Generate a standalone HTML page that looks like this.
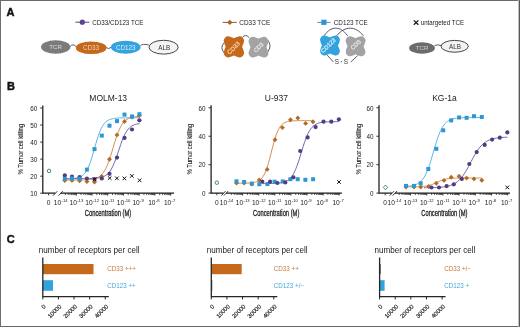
<!DOCTYPE html><html><head><meta charset="utf-8"><style>html,body{margin:0;padding:0;background:#fff}svg{display:block;will-change:transform}svg text{font-family:"Liberation Sans",sans-serif}</style></head><body>
<svg width="520" height="327" viewBox="0 0 520 327">
<rect x="0" y="0" width="520" height="327" fill="#fff"/>
<text x="6.6" y="15.8" font-size="11" font-weight="bold" fill="#111" stroke="#111" stroke-width="0.45" font-family="&quot;Liberation Sans&quot;, sans-serif">A</text>
<text x="6.9" y="90.2" font-size="11" font-weight="bold" fill="#111" stroke="#111" stroke-width="0.45" font-family="&quot;Liberation Sans&quot;, sans-serif">B</text>
<text x="6.7" y="242.9" font-size="11" font-weight="bold" fill="#111" stroke="#111" stroke-width="0.45" font-family="&quot;Liberation Sans&quot;, sans-serif">C</text>
<path d="M75.4,22.2 L89.4,22.2" stroke="#524478" stroke-width="1"/><circle cx="82.3" cy="22.2" r="2.6" fill="#5f4095"/>
<text transform="translate(92.3,24.7) scale(0.945,1)" font-size="6.6" fill="#222" font-family="&quot;Liberation Sans&quot;, sans-serif">CD33/CD123 TCE</text>
<path d="M222.6,22.4 L236.8,22.4" stroke="#8a5e26" stroke-width="1"/><path d="M229.8,19.7 L232.5,22.4 L229.8,25.099999999999998 L227.10000000000002,22.4Z" fill="#ab6420"/>
<text transform="translate(239.3,25.0) scale(0.96,1)" font-size="6.7" fill="#222" font-family="&quot;Liberation Sans&quot;, sans-serif">CD33 TCE</text>
<path d="M317.3,22.4 L330.6,22.4" stroke="#4d84b0" stroke-width="0.9"/><rect x="321.30" y="19.70" width="5.20" height="5.20" fill="#2f95cd"/>
<text transform="translate(333.8,25.0) scale(0.96,1)" font-size="6.6" fill="#222" font-family="&quot;Liberation Sans&quot;, sans-serif">CD123 TCE</text>
<path d="M413.8,20.4 L418.4,24.8 M418.4,20.4 L413.8,24.8" stroke="#111" stroke-width="1.2" fill="none"/>
<text transform="translate(420.7,25.0) scale(0.95,1)" font-size="6.5" fill="#222" font-family="&quot;Liberation Sans&quot;, sans-serif">untargeted TCE</text>
<path d="M70.2,46.6 Q72.8,43.2 75.9,46.4" stroke="#3e4759" stroke-width="0.9" fill="none"/>
<path d="M106.4,47.6 Q108.5,49.6 111.0,47.4" stroke="#3e4759" stroke-width="0.9" fill="none"/>
<path d="M140.4,45.8 Q142.5,43.4 148.8,45.0" stroke="#3e4759" stroke-width="0.9" fill="none"/>
<ellipse cx="55.7" cy="47" rx="14.7" ry="6.7" fill="#7b7b7b"/>
<text x="55.7" y="49.3" font-size="6.2" text-anchor="middle" fill="#dcdcdc" font-family="&quot;Liberation Sans&quot;, sans-serif">TCR</text>
<ellipse cx="91.2" cy="47.8" rx="15.4" ry="6.3" fill="#c4691b"/>
<text x="91.0" y="50.1" font-size="6.3" text-anchor="middle" fill="#f3d2b3" font-family="&quot;Liberation Sans&quot;, sans-serif">CD33</text>
<ellipse cx="125.7" cy="47.2" rx="14.8" ry="6.5" fill="#34a3dd"/>
<text x="125.7" y="49.5" font-size="6.3" text-anchor="middle" fill="#d6effc" font-family="&quot;Liberation Sans&quot;, sans-serif">CD123</text>
<ellipse cx="163.6" cy="47.2" rx="14.6" ry="6.9" fill="#f3f3f3" stroke="#333" stroke-width="0.9"/>
<text x="164.2" y="49.5" font-size="6.3" text-anchor="middle" fill="#333" font-family="&quot;Liberation Sans&quot;, sans-serif">ALB</text>
<path d="M224.2,42.6 Q219.6,47.6 224.2,52.8" stroke="#3e4759" stroke-width="0.9" fill="none"/>
<path d="M242.3,37.6 Q245.6,33.2 249.4,38.0" stroke="#3e4759" stroke-width="0.9" fill="none"/>
<path d="M267.6,40.0 Q272.4,45.8 267.8,51.8" stroke="#3e4759" stroke-width="0.9" fill="none"/>
<path d="M223.89,42.09 A4.4,4.4 0 0 1 229.39,36.59 C236.83,38.87 230.97,38.87 238.41,36.59 A4.4,4.4 0 0 1 243.91,42.09 C241.63,49.53 241.63,44.27 243.91,51.71 A4.4,4.4 0 0 1 238.41,57.21 C230.97,54.93 236.83,54.93 229.39,57.21 A4.4,4.4 0 0 1 223.89,51.71 C226.17,44.27 226.17,49.53 223.89,42.09 Z" fill="#c4691b"/>
<path d="M248.79,42.59 A4.4,4.4 0 0 1 254.29,37.09 C261.73,39.37 255.27,39.37 262.71,37.09 A4.4,4.4 0 0 1 268.21,42.59 C265.93,50.03 265.93,44.37 268.21,51.81 A4.4,4.4 0 0 1 262.71,57.31 C255.27,55.03 261.73,55.03 254.29,57.31 A4.4,4.4 0 0 1 248.79,51.81 C251.07,44.37 251.07,50.03 248.79,42.59 Z" fill="#a3a3a3"/>
<text transform="translate(235.0,49.4) rotate(-45)" font-size="6.0" text-anchor="middle" fill="#f7cf9f" stroke="#f7cf9f" stroke-width="0.25" font-family="&quot;Liberation Sans&quot;, sans-serif">CD33</text>
<text transform="translate(259.9,48.7) rotate(-45)" font-size="5.7" text-anchor="middle" fill="#e6e6e6" stroke="#e6e6e6" stroke-width="0.25" font-family="&quot;Liberation Sans&quot;, sans-serif">CD3</text>
<path d="M323.9,35.8 C328,30.6 331,28.2 335.7,28.2 C340.4,28.2 343.6,30.6 347.7,35.8" stroke="#3e4759" stroke-width="0.9" fill="none"/>
<path d="M336.6,35.8 C340.8,30.6 345.5,28.2 350.2,28.2 C354.9,28.2 359.2,30.6 363.4,35.8" stroke="#3e4759" stroke-width="0.9" fill="none"/>
<path d="M327.2,55.2 L333.4,62.0 M357.6,55.6 L350.8,62.0" stroke="#3e4759" stroke-width="0.9" fill="none"/>
<path d="M320.29,41.19 A4.4,4.4 0 0 1 325.79,35.69 C333.23,37.97 326.77,37.97 334.21,35.69 A4.4,4.4 0 0 1 339.71,41.19 C337.43,48.63 337.43,42.37 339.71,49.81 A4.4,4.4 0 0 1 334.21,55.31 C326.77,53.03 333.23,53.03 325.79,55.31 A4.4,4.4 0 0 1 320.29,49.81 C322.57,42.37 322.57,48.63 320.29,41.19 Z" fill="#34a3dd"/>
<path d="M345.89,41.89 A4.4,4.4 0 0 1 351.39,36.39 C358.83,38.67 352.37,38.67 359.81,36.39 A4.4,4.4 0 0 1 365.31,41.89 C363.03,49.33 363.03,43.07 365.31,50.51 A4.4,4.4 0 0 1 359.81,56.01 C352.37,53.73 358.83,53.73 351.39,56.01 A4.4,4.4 0 0 1 345.89,50.51 C348.17,43.07 348.17,49.33 345.89,41.89 Z" fill="#a3a3a3"/>
<text transform="translate(329.7,46.9) rotate(-45)" font-size="5.8" text-anchor="middle" fill="#cdeefc" stroke="#cdeefc" stroke-width="0.25" font-family="&quot;Liberation Sans&quot;, sans-serif">CD123</text>
<text transform="translate(357.1,46.2) rotate(-45)" font-size="5.8" text-anchor="middle" fill="#e6e6e6" stroke="#e6e6e6" stroke-width="0.25" font-family="&quot;Liberation Sans&quot;, sans-serif">CD3</text>
<text x="337.0" y="63.8" font-size="6.4" text-anchor="middle" fill="#333" font-family="&quot;Liberation Sans&quot;, sans-serif">S</text><text x="346.0" y="63.8" font-size="6.4" text-anchor="middle" fill="#333" font-family="&quot;Liberation Sans&quot;, sans-serif">S</text><rect x="340.8" y="61.2" width="1.3" height="1.0" fill="#555"/>
<path d="M434.6,45.6 Q437.6,44.0 441.2,45.6" stroke="#3e4759" stroke-width="0.9" fill="none"/>
<ellipse cx="422" cy="48" rx="12.9" ry="5.7" fill="#6b6b6b"/>
<text x="422" y="50.2" font-size="6.2" text-anchor="middle" fill="#cfcfcf" font-family="&quot;Liberation Sans&quot;, sans-serif">TCR</text>
<ellipse cx="454.7" cy="46.3" rx="13.6" ry="5.9" fill="#f3f3f3" stroke="#333" stroke-width="0.9"/>
<text x="455" y="48.6" font-size="6.3" text-anchor="middle" fill="#333" font-family="&quot;Liberation Sans&quot;, sans-serif">ALB</text>
<path d="M42.8,105.5 L42.8,193.2 L55.2,193.2 M60.7,193.2 L174,193.2" stroke="#1a1a1a" stroke-width="1.25" fill="none"/>
<path d="M53.0,195.7 L57.3,191.2 M58.5,195.7 L62.8,191.2" stroke="#222" stroke-width="0.9" fill="none"/>
<path d="M48.6,193.2 L48.6,195.39999999999998" stroke="#222" stroke-width="0.9"/>
<path d="M65.33,193.2 L65.33,195.1" stroke="#222" stroke-width="0.75"/>
<path d="M68.10,193.2 L68.10,195.1" stroke="#222" stroke-width="0.75"/>
<path d="M70.06,193.2 L70.06,195.1" stroke="#222" stroke-width="0.75"/>
<path d="M71.59,193.2 L71.59,195.1" stroke="#222" stroke-width="0.75"/>
<path d="M72.83,193.2 L72.83,195.1" stroke="#222" stroke-width="0.75"/>
<path d="M73.88,193.2 L73.88,195.1" stroke="#222" stroke-width="0.75"/>
<path d="M74.80,193.2 L74.80,195.1" stroke="#222" stroke-width="0.75"/>
<path d="M75.60,193.2 L75.60,195.1" stroke="#222" stroke-width="0.75"/>
<path d="M76.32,193.2 L76.32,195.6" stroke="#222" stroke-width="0.9"/>
<path d="M81.05,193.2 L81.05,195.1" stroke="#222" stroke-width="0.75"/>
<path d="M83.82,193.2 L83.82,195.1" stroke="#222" stroke-width="0.75"/>
<path d="M85.78,193.2 L85.78,195.1" stroke="#222" stroke-width="0.75"/>
<path d="M87.31,193.2 L87.31,195.1" stroke="#222" stroke-width="0.75"/>
<path d="M88.55,193.2 L88.55,195.1" stroke="#222" stroke-width="0.75"/>
<path d="M89.60,193.2 L89.60,195.1" stroke="#222" stroke-width="0.75"/>
<path d="M90.52,193.2 L90.52,195.1" stroke="#222" stroke-width="0.75"/>
<path d="M91.32,193.2 L91.32,195.1" stroke="#222" stroke-width="0.75"/>
<path d="M92.04,193.2 L92.04,195.6" stroke="#222" stroke-width="0.9"/>
<path d="M96.77,193.2 L96.77,195.1" stroke="#222" stroke-width="0.75"/>
<path d="M99.54,193.2 L99.54,195.1" stroke="#222" stroke-width="0.75"/>
<path d="M101.50,193.2 L101.50,195.1" stroke="#222" stroke-width="0.75"/>
<path d="M103.03,193.2 L103.03,195.1" stroke="#222" stroke-width="0.75"/>
<path d="M104.27,193.2 L104.27,195.1" stroke="#222" stroke-width="0.75"/>
<path d="M105.32,193.2 L105.32,195.1" stroke="#222" stroke-width="0.75"/>
<path d="M106.24,193.2 L106.24,195.1" stroke="#222" stroke-width="0.75"/>
<path d="M107.04,193.2 L107.04,195.1" stroke="#222" stroke-width="0.75"/>
<path d="M107.76,193.2 L107.76,195.6" stroke="#222" stroke-width="0.9"/>
<path d="M112.49,193.2 L112.49,195.1" stroke="#222" stroke-width="0.75"/>
<path d="M115.26,193.2 L115.26,195.1" stroke="#222" stroke-width="0.75"/>
<path d="M117.22,193.2 L117.22,195.1" stroke="#222" stroke-width="0.75"/>
<path d="M118.75,193.2 L118.75,195.1" stroke="#222" stroke-width="0.75"/>
<path d="M119.99,193.2 L119.99,195.1" stroke="#222" stroke-width="0.75"/>
<path d="M121.04,193.2 L121.04,195.1" stroke="#222" stroke-width="0.75"/>
<path d="M121.96,193.2 L121.96,195.1" stroke="#222" stroke-width="0.75"/>
<path d="M122.76,193.2 L122.76,195.1" stroke="#222" stroke-width="0.75"/>
<path d="M123.48,193.2 L123.48,195.6" stroke="#222" stroke-width="0.9"/>
<path d="M128.21,193.2 L128.21,195.1" stroke="#222" stroke-width="0.75"/>
<path d="M130.98,193.2 L130.98,195.1" stroke="#222" stroke-width="0.75"/>
<path d="M132.94,193.2 L132.94,195.1" stroke="#222" stroke-width="0.75"/>
<path d="M134.47,193.2 L134.47,195.1" stroke="#222" stroke-width="0.75"/>
<path d="M135.71,193.2 L135.71,195.1" stroke="#222" stroke-width="0.75"/>
<path d="M136.76,193.2 L136.76,195.1" stroke="#222" stroke-width="0.75"/>
<path d="M137.68,193.2 L137.68,195.1" stroke="#222" stroke-width="0.75"/>
<path d="M138.48,193.2 L138.48,195.1" stroke="#222" stroke-width="0.75"/>
<path d="M139.20,193.2 L139.20,195.6" stroke="#222" stroke-width="0.9"/>
<path d="M143.93,193.2 L143.93,195.1" stroke="#222" stroke-width="0.75"/>
<path d="M146.70,193.2 L146.70,195.1" stroke="#222" stroke-width="0.75"/>
<path d="M148.66,193.2 L148.66,195.1" stroke="#222" stroke-width="0.75"/>
<path d="M150.19,193.2 L150.19,195.1" stroke="#222" stroke-width="0.75"/>
<path d="M151.43,193.2 L151.43,195.1" stroke="#222" stroke-width="0.75"/>
<path d="M152.48,193.2 L152.48,195.1" stroke="#222" stroke-width="0.75"/>
<path d="M153.40,193.2 L153.40,195.1" stroke="#222" stroke-width="0.75"/>
<path d="M154.20,193.2 L154.20,195.1" stroke="#222" stroke-width="0.75"/>
<path d="M154.92,193.2 L154.92,195.6" stroke="#222" stroke-width="0.9"/>
<path d="M159.65,193.2 L159.65,195.1" stroke="#222" stroke-width="0.75"/>
<path d="M162.42,193.2 L162.42,195.1" stroke="#222" stroke-width="0.75"/>
<path d="M164.38,193.2 L164.38,195.1" stroke="#222" stroke-width="0.75"/>
<path d="M165.91,193.2 L165.91,195.1" stroke="#222" stroke-width="0.75"/>
<path d="M167.15,193.2 L167.15,195.1" stroke="#222" stroke-width="0.75"/>
<path d="M168.20,193.2 L168.20,195.1" stroke="#222" stroke-width="0.75"/>
<path d="M169.12,193.2 L169.12,195.1" stroke="#222" stroke-width="0.75"/>
<path d="M169.92,193.2 L169.92,195.1" stroke="#222" stroke-width="0.75"/>
<path d="M170.64,193.2 L170.64,195.6" stroke="#222" stroke-width="0.9"/>
<text x="48.6" y="204.6" font-size="6.6" text-anchor="middle" fill="#222" font-family="&quot;Liberation Sans&quot;, sans-serif">0</text>
<text x="61.20" y="204.6" font-size="6.6" text-anchor="end" fill="#222" font-family="&quot;Liberation Sans&quot;, sans-serif">10</text>
<text x="61.50" y="201.9" font-size="4.2" fill="#222" font-family="&quot;Liberation Sans&quot;, sans-serif">-14</text>
<text x="76.92" y="204.6" font-size="6.6" text-anchor="end" fill="#222" font-family="&quot;Liberation Sans&quot;, sans-serif">10</text>
<text x="77.22" y="201.9" font-size="4.2" fill="#222" font-family="&quot;Liberation Sans&quot;, sans-serif">-13</text>
<text x="92.64" y="204.6" font-size="6.6" text-anchor="end" fill="#222" font-family="&quot;Liberation Sans&quot;, sans-serif">10</text>
<text x="92.94" y="201.9" font-size="4.2" fill="#222" font-family="&quot;Liberation Sans&quot;, sans-serif">-12</text>
<text x="108.36" y="204.6" font-size="6.6" text-anchor="end" fill="#222" font-family="&quot;Liberation Sans&quot;, sans-serif">10</text>
<text x="108.66" y="201.9" font-size="4.2" fill="#222" font-family="&quot;Liberation Sans&quot;, sans-serif">-11</text>
<text x="124.08" y="204.6" font-size="6.6" text-anchor="end" fill="#222" font-family="&quot;Liberation Sans&quot;, sans-serif">10</text>
<text x="124.38" y="201.9" font-size="4.2" fill="#222" font-family="&quot;Liberation Sans&quot;, sans-serif">-10</text>
<text x="139.80" y="204.6" font-size="6.6" text-anchor="end" fill="#222" font-family="&quot;Liberation Sans&quot;, sans-serif">10</text>
<text x="140.10" y="201.9" font-size="4.2" fill="#222" font-family="&quot;Liberation Sans&quot;, sans-serif">-9</text>
<text x="155.52" y="204.6" font-size="6.6" text-anchor="end" fill="#222" font-family="&quot;Liberation Sans&quot;, sans-serif">10</text>
<text x="155.82" y="201.9" font-size="4.2" fill="#222" font-family="&quot;Liberation Sans&quot;, sans-serif">-8</text>
<text x="171.24" y="204.6" font-size="6.6" text-anchor="end" fill="#222" font-family="&quot;Liberation Sans&quot;, sans-serif">10</text>
<text x="171.54" y="201.9" font-size="4.2" fill="#222" font-family="&quot;Liberation Sans&quot;, sans-serif">-7</text>
<path d="M40.199999999999996,193.20 L42.8,193.20" stroke="#222" stroke-width="0.9"/>
<text x="37.199999999999996" y="195.90" font-size="6.3" text-anchor="end" fill="#222" font-family="&quot;Liberation Sans&quot;, sans-serif">10</text>
<path d="M40.199999999999996,176.16 L42.8,176.16" stroke="#222" stroke-width="0.9"/>
<text x="37.199999999999996" y="178.86" font-size="6.3" text-anchor="end" fill="#222" font-family="&quot;Liberation Sans&quot;, sans-serif">20</text>
<path d="M40.199999999999996,159.12 L42.8,159.12" stroke="#222" stroke-width="0.9"/>
<text x="37.199999999999996" y="161.82" font-size="6.3" text-anchor="end" fill="#222" font-family="&quot;Liberation Sans&quot;, sans-serif">30</text>
<path d="M40.199999999999996,142.08 L42.8,142.08" stroke="#222" stroke-width="0.9"/>
<text x="37.199999999999996" y="144.78" font-size="6.3" text-anchor="end" fill="#222" font-family="&quot;Liberation Sans&quot;, sans-serif">40</text>
<path d="M40.199999999999996,125.04 L42.8,125.04" stroke="#222" stroke-width="0.9"/>
<text x="37.199999999999996" y="127.74" font-size="6.3" text-anchor="end" fill="#222" font-family="&quot;Liberation Sans&quot;, sans-serif">50</text>
<path d="M40.199999999999996,108.00 L42.8,108.00" stroke="#222" stroke-width="0.9"/>
<text x="37.199999999999996" y="110.70" font-size="6.3" text-anchor="end" fill="#222" font-family="&quot;Liberation Sans&quot;, sans-serif">60</text>
<text transform="translate(23.1,149.2) rotate(-90) scale(0.87,1)" x="0" y="0" font-size="6.8" text-anchor="middle" fill="#222" stroke="#222" stroke-width="0.1" font-family="&quot;Liberation Sans&quot;, sans-serif">% Tumor cell killing</text>
<text transform="translate(108.0,216.1) scale(0.69,1)" x="0" y="0" font-size="8.4" text-anchor="middle" fill="#222" stroke="#222" stroke-width="0.3" font-family="&quot;Liberation Sans&quot;, sans-serif">Concentration (M)</text>
<text x="108.2" y="100.5" font-size="8.5" text-anchor="middle" fill="#222" font-family="&quot;Liberation Sans&quot;, sans-serif">MOLM-13</text>
<path d="M211.1,105.3 L211.1,193.1 L223.5,193.1 M226.1,193.1 L341.9,193.1" stroke="#1a1a1a" stroke-width="1.25" fill="none"/>
<path d="M221.3,195.6 L225.60000000000002,191.1 M223.9,195.6 L228.20000000000002,191.1" stroke="#222" stroke-width="0.9" fill="none"/>
<path d="M216.9,193.1 L216.9,195.29999999999998" stroke="#222" stroke-width="0.9"/>
<path d="M231.35,193.1 L231.35,195.0" stroke="#222" stroke-width="0.75"/>
<path d="M234.18,193.1 L234.18,195.0" stroke="#222" stroke-width="0.75"/>
<path d="M236.19,193.1 L236.19,195.0" stroke="#222" stroke-width="0.75"/>
<path d="M237.75,193.1 L237.75,195.0" stroke="#222" stroke-width="0.75"/>
<path d="M239.03,193.1 L239.03,195.0" stroke="#222" stroke-width="0.75"/>
<path d="M240.11,193.1 L240.11,195.0" stroke="#222" stroke-width="0.75"/>
<path d="M241.04,193.1 L241.04,195.0" stroke="#222" stroke-width="0.75"/>
<path d="M241.86,193.1 L241.86,195.0" stroke="#222" stroke-width="0.75"/>
<path d="M242.60,193.1 L242.60,195.5" stroke="#222" stroke-width="0.9"/>
<path d="M247.45,193.1 L247.45,195.0" stroke="#222" stroke-width="0.75"/>
<path d="M250.28,193.1 L250.28,195.0" stroke="#222" stroke-width="0.75"/>
<path d="M252.29,193.1 L252.29,195.0" stroke="#222" stroke-width="0.75"/>
<path d="M253.85,193.1 L253.85,195.0" stroke="#222" stroke-width="0.75"/>
<path d="M255.13,193.1 L255.13,195.0" stroke="#222" stroke-width="0.75"/>
<path d="M256.21,193.1 L256.21,195.0" stroke="#222" stroke-width="0.75"/>
<path d="M257.14,193.1 L257.14,195.0" stroke="#222" stroke-width="0.75"/>
<path d="M257.96,193.1 L257.96,195.0" stroke="#222" stroke-width="0.75"/>
<path d="M258.70,193.1 L258.70,195.5" stroke="#222" stroke-width="0.9"/>
<path d="M263.55,193.1 L263.55,195.0" stroke="#222" stroke-width="0.75"/>
<path d="M266.38,193.1 L266.38,195.0" stroke="#222" stroke-width="0.75"/>
<path d="M268.39,193.1 L268.39,195.0" stroke="#222" stroke-width="0.75"/>
<path d="M269.95,193.1 L269.95,195.0" stroke="#222" stroke-width="0.75"/>
<path d="M271.23,193.1 L271.23,195.0" stroke="#222" stroke-width="0.75"/>
<path d="M272.31,193.1 L272.31,195.0" stroke="#222" stroke-width="0.75"/>
<path d="M273.24,193.1 L273.24,195.0" stroke="#222" stroke-width="0.75"/>
<path d="M274.06,193.1 L274.06,195.0" stroke="#222" stroke-width="0.75"/>
<path d="M274.80,193.1 L274.80,195.5" stroke="#222" stroke-width="0.9"/>
<path d="M279.65,193.1 L279.65,195.0" stroke="#222" stroke-width="0.75"/>
<path d="M282.48,193.1 L282.48,195.0" stroke="#222" stroke-width="0.75"/>
<path d="M284.49,193.1 L284.49,195.0" stroke="#222" stroke-width="0.75"/>
<path d="M286.05,193.1 L286.05,195.0" stroke="#222" stroke-width="0.75"/>
<path d="M287.33,193.1 L287.33,195.0" stroke="#222" stroke-width="0.75"/>
<path d="M288.41,193.1 L288.41,195.0" stroke="#222" stroke-width="0.75"/>
<path d="M289.34,193.1 L289.34,195.0" stroke="#222" stroke-width="0.75"/>
<path d="M290.16,193.1 L290.16,195.0" stroke="#222" stroke-width="0.75"/>
<path d="M290.90,193.1 L290.90,195.5" stroke="#222" stroke-width="0.9"/>
<path d="M295.75,193.1 L295.75,195.0" stroke="#222" stroke-width="0.75"/>
<path d="M298.58,193.1 L298.58,195.0" stroke="#222" stroke-width="0.75"/>
<path d="M300.59,193.1 L300.59,195.0" stroke="#222" stroke-width="0.75"/>
<path d="M302.15,193.1 L302.15,195.0" stroke="#222" stroke-width="0.75"/>
<path d="M303.43,193.1 L303.43,195.0" stroke="#222" stroke-width="0.75"/>
<path d="M304.51,193.1 L304.51,195.0" stroke="#222" stroke-width="0.75"/>
<path d="M305.44,193.1 L305.44,195.0" stroke="#222" stroke-width="0.75"/>
<path d="M306.26,193.1 L306.26,195.0" stroke="#222" stroke-width="0.75"/>
<path d="M307.00,193.1 L307.00,195.5" stroke="#222" stroke-width="0.9"/>
<path d="M311.85,193.1 L311.85,195.0" stroke="#222" stroke-width="0.75"/>
<path d="M314.68,193.1 L314.68,195.0" stroke="#222" stroke-width="0.75"/>
<path d="M316.69,193.1 L316.69,195.0" stroke="#222" stroke-width="0.75"/>
<path d="M318.25,193.1 L318.25,195.0" stroke="#222" stroke-width="0.75"/>
<path d="M319.53,193.1 L319.53,195.0" stroke="#222" stroke-width="0.75"/>
<path d="M320.61,193.1 L320.61,195.0" stroke="#222" stroke-width="0.75"/>
<path d="M321.54,193.1 L321.54,195.0" stroke="#222" stroke-width="0.75"/>
<path d="M322.36,193.1 L322.36,195.0" stroke="#222" stroke-width="0.75"/>
<path d="M323.10,193.1 L323.10,195.5" stroke="#222" stroke-width="0.9"/>
<path d="M327.95,193.1 L327.95,195.0" stroke="#222" stroke-width="0.75"/>
<path d="M330.78,193.1 L330.78,195.0" stroke="#222" stroke-width="0.75"/>
<path d="M332.79,193.1 L332.79,195.0" stroke="#222" stroke-width="0.75"/>
<path d="M334.35,193.1 L334.35,195.0" stroke="#222" stroke-width="0.75"/>
<path d="M335.63,193.1 L335.63,195.0" stroke="#222" stroke-width="0.75"/>
<path d="M336.71,193.1 L336.71,195.0" stroke="#222" stroke-width="0.75"/>
<path d="M337.64,193.1 L337.64,195.0" stroke="#222" stroke-width="0.75"/>
<path d="M338.46,193.1 L338.46,195.0" stroke="#222" stroke-width="0.75"/>
<path d="M339.20,193.1 L339.20,195.5" stroke="#222" stroke-width="0.9"/>
<text x="216.9" y="204.6" font-size="6.6" text-anchor="middle" fill="#222" font-family="&quot;Liberation Sans&quot;, sans-serif">0</text>
<text x="227.10" y="204.6" font-size="6.6" text-anchor="end" fill="#222" font-family="&quot;Liberation Sans&quot;, sans-serif">10</text>
<text x="227.40" y="201.9" font-size="4.2" fill="#222" font-family="&quot;Liberation Sans&quot;, sans-serif">-14</text>
<text x="243.20" y="204.6" font-size="6.6" text-anchor="end" fill="#222" font-family="&quot;Liberation Sans&quot;, sans-serif">10</text>
<text x="243.50" y="201.9" font-size="4.2" fill="#222" font-family="&quot;Liberation Sans&quot;, sans-serif">-13</text>
<text x="259.30" y="204.6" font-size="6.6" text-anchor="end" fill="#222" font-family="&quot;Liberation Sans&quot;, sans-serif">10</text>
<text x="259.60" y="201.9" font-size="4.2" fill="#222" font-family="&quot;Liberation Sans&quot;, sans-serif">-12</text>
<text x="275.40" y="204.6" font-size="6.6" text-anchor="end" fill="#222" font-family="&quot;Liberation Sans&quot;, sans-serif">10</text>
<text x="275.70" y="201.9" font-size="4.2" fill="#222" font-family="&quot;Liberation Sans&quot;, sans-serif">-11</text>
<text x="291.50" y="204.6" font-size="6.6" text-anchor="end" fill="#222" font-family="&quot;Liberation Sans&quot;, sans-serif">10</text>
<text x="291.80" y="201.9" font-size="4.2" fill="#222" font-family="&quot;Liberation Sans&quot;, sans-serif">-10</text>
<text x="307.60" y="204.6" font-size="6.6" text-anchor="end" fill="#222" font-family="&quot;Liberation Sans&quot;, sans-serif">10</text>
<text x="307.90" y="201.9" font-size="4.2" fill="#222" font-family="&quot;Liberation Sans&quot;, sans-serif">-9</text>
<text x="323.70" y="204.6" font-size="6.6" text-anchor="end" fill="#222" font-family="&quot;Liberation Sans&quot;, sans-serif">10</text>
<text x="324.00" y="201.9" font-size="4.2" fill="#222" font-family="&quot;Liberation Sans&quot;, sans-serif">-8</text>
<text x="339.80" y="204.6" font-size="6.6" text-anchor="end" fill="#222" font-family="&quot;Liberation Sans&quot;, sans-serif">10</text>
<text x="340.10" y="201.9" font-size="4.2" fill="#222" font-family="&quot;Liberation Sans&quot;, sans-serif">-7</text>
<path d="M208.5,193.10 L211.1,193.10" stroke="#222" stroke-width="0.9"/>
<text x="205.5" y="195.80" font-size="6.3" text-anchor="end" fill="#222" font-family="&quot;Liberation Sans&quot;, sans-serif">0</text>
<path d="M208.5,164.67 L211.1,164.67" stroke="#222" stroke-width="0.9"/>
<text x="205.5" y="167.37" font-size="6.3" text-anchor="end" fill="#222" font-family="&quot;Liberation Sans&quot;, sans-serif">20</text>
<path d="M208.5,136.23 L211.1,136.23" stroke="#222" stroke-width="0.9"/>
<text x="205.5" y="138.93" font-size="6.3" text-anchor="end" fill="#222" font-family="&quot;Liberation Sans&quot;, sans-serif">40</text>
<path d="M208.5,107.80 L211.1,107.80" stroke="#222" stroke-width="0.9"/>
<text x="205.5" y="110.50" font-size="6.3" text-anchor="end" fill="#222" font-family="&quot;Liberation Sans&quot;, sans-serif">60</text>
<text transform="translate(191.9,149.2) rotate(-90) scale(0.87,1)" x="0" y="0" font-size="6.8" text-anchor="middle" fill="#222" stroke="#222" stroke-width="0.1" font-family="&quot;Liberation Sans&quot;, sans-serif">% Tumor cell killing</text>
<text transform="translate(276.2,216.1) scale(0.69,1)" x="0" y="0" font-size="8.4" text-anchor="middle" fill="#222" stroke="#222" stroke-width="0.3" font-family="&quot;Liberation Sans&quot;, sans-serif">Concentration (M)</text>
<text x="276.4" y="100.5" font-size="8.5" text-anchor="middle" fill="#222" font-family="&quot;Liberation Sans&quot;, sans-serif">U-937</text>
<path d="M379.0,105.3 L379.0,193.1 L392.0,193.1 M394.9,193.1 L510.0,193.1" stroke="#1a1a1a" stroke-width="1.25" fill="none"/>
<path d="M389.8,195.6 L394.1,191.1 M392.7,195.6 L397.0,191.1" stroke="#222" stroke-width="0.9" fill="none"/>
<path d="M385.2,193.1 L385.2,195.29999999999998" stroke="#222" stroke-width="0.9"/>
<path d="M399.18,193.1 L399.18,195.0" stroke="#222" stroke-width="0.75"/>
<path d="M402.03,193.1 L402.03,195.0" stroke="#222" stroke-width="0.75"/>
<path d="M404.05,193.1 L404.05,195.0" stroke="#222" stroke-width="0.75"/>
<path d="M405.62,193.1 L405.62,195.0" stroke="#222" stroke-width="0.75"/>
<path d="M406.91,193.1 L406.91,195.0" stroke="#222" stroke-width="0.75"/>
<path d="M407.99,193.1 L407.99,195.0" stroke="#222" stroke-width="0.75"/>
<path d="M408.93,193.1 L408.93,195.0" stroke="#222" stroke-width="0.75"/>
<path d="M409.76,193.1 L409.76,195.0" stroke="#222" stroke-width="0.75"/>
<path d="M410.50,193.1 L410.50,195.5" stroke="#222" stroke-width="0.9"/>
<path d="M415.38,193.1 L415.38,195.0" stroke="#222" stroke-width="0.75"/>
<path d="M418.23,193.1 L418.23,195.0" stroke="#222" stroke-width="0.75"/>
<path d="M420.25,193.1 L420.25,195.0" stroke="#222" stroke-width="0.75"/>
<path d="M421.82,193.1 L421.82,195.0" stroke="#222" stroke-width="0.75"/>
<path d="M423.11,193.1 L423.11,195.0" stroke="#222" stroke-width="0.75"/>
<path d="M424.19,193.1 L424.19,195.0" stroke="#222" stroke-width="0.75"/>
<path d="M425.13,193.1 L425.13,195.0" stroke="#222" stroke-width="0.75"/>
<path d="M425.96,193.1 L425.96,195.0" stroke="#222" stroke-width="0.75"/>
<path d="M426.70,193.1 L426.70,195.5" stroke="#222" stroke-width="0.9"/>
<path d="M431.58,193.1 L431.58,195.0" stroke="#222" stroke-width="0.75"/>
<path d="M434.43,193.1 L434.43,195.0" stroke="#222" stroke-width="0.75"/>
<path d="M436.45,193.1 L436.45,195.0" stroke="#222" stroke-width="0.75"/>
<path d="M438.02,193.1 L438.02,195.0" stroke="#222" stroke-width="0.75"/>
<path d="M439.31,193.1 L439.31,195.0" stroke="#222" stroke-width="0.75"/>
<path d="M440.39,193.1 L440.39,195.0" stroke="#222" stroke-width="0.75"/>
<path d="M441.33,193.1 L441.33,195.0" stroke="#222" stroke-width="0.75"/>
<path d="M442.16,193.1 L442.16,195.0" stroke="#222" stroke-width="0.75"/>
<path d="M442.90,193.1 L442.90,195.5" stroke="#222" stroke-width="0.9"/>
<path d="M447.78,193.1 L447.78,195.0" stroke="#222" stroke-width="0.75"/>
<path d="M450.63,193.1 L450.63,195.0" stroke="#222" stroke-width="0.75"/>
<path d="M452.65,193.1 L452.65,195.0" stroke="#222" stroke-width="0.75"/>
<path d="M454.22,193.1 L454.22,195.0" stroke="#222" stroke-width="0.75"/>
<path d="M455.51,193.1 L455.51,195.0" stroke="#222" stroke-width="0.75"/>
<path d="M456.59,193.1 L456.59,195.0" stroke="#222" stroke-width="0.75"/>
<path d="M457.53,193.1 L457.53,195.0" stroke="#222" stroke-width="0.75"/>
<path d="M458.36,193.1 L458.36,195.0" stroke="#222" stroke-width="0.75"/>
<path d="M459.10,193.1 L459.10,195.5" stroke="#222" stroke-width="0.9"/>
<path d="M463.98,193.1 L463.98,195.0" stroke="#222" stroke-width="0.75"/>
<path d="M466.83,193.1 L466.83,195.0" stroke="#222" stroke-width="0.75"/>
<path d="M468.85,193.1 L468.85,195.0" stroke="#222" stroke-width="0.75"/>
<path d="M470.42,193.1 L470.42,195.0" stroke="#222" stroke-width="0.75"/>
<path d="M471.71,193.1 L471.71,195.0" stroke="#222" stroke-width="0.75"/>
<path d="M472.79,193.1 L472.79,195.0" stroke="#222" stroke-width="0.75"/>
<path d="M473.73,193.1 L473.73,195.0" stroke="#222" stroke-width="0.75"/>
<path d="M474.56,193.1 L474.56,195.0" stroke="#222" stroke-width="0.75"/>
<path d="M475.30,193.1 L475.30,195.5" stroke="#222" stroke-width="0.9"/>
<path d="M480.18,193.1 L480.18,195.0" stroke="#222" stroke-width="0.75"/>
<path d="M483.03,193.1 L483.03,195.0" stroke="#222" stroke-width="0.75"/>
<path d="M485.05,193.1 L485.05,195.0" stroke="#222" stroke-width="0.75"/>
<path d="M486.62,193.1 L486.62,195.0" stroke="#222" stroke-width="0.75"/>
<path d="M487.91,193.1 L487.91,195.0" stroke="#222" stroke-width="0.75"/>
<path d="M488.99,193.1 L488.99,195.0" stroke="#222" stroke-width="0.75"/>
<path d="M489.93,193.1 L489.93,195.0" stroke="#222" stroke-width="0.75"/>
<path d="M490.76,193.1 L490.76,195.0" stroke="#222" stroke-width="0.75"/>
<path d="M491.50,193.1 L491.50,195.5" stroke="#222" stroke-width="0.9"/>
<path d="M496.38,193.1 L496.38,195.0" stroke="#222" stroke-width="0.75"/>
<path d="M499.23,193.1 L499.23,195.0" stroke="#222" stroke-width="0.75"/>
<path d="M501.25,193.1 L501.25,195.0" stroke="#222" stroke-width="0.75"/>
<path d="M502.82,193.1 L502.82,195.0" stroke="#222" stroke-width="0.75"/>
<path d="M504.11,193.1 L504.11,195.0" stroke="#222" stroke-width="0.75"/>
<path d="M505.19,193.1 L505.19,195.0" stroke="#222" stroke-width="0.75"/>
<path d="M506.13,193.1 L506.13,195.0" stroke="#222" stroke-width="0.75"/>
<path d="M506.96,193.1 L506.96,195.0" stroke="#222" stroke-width="0.75"/>
<path d="M507.70,193.1 L507.70,195.5" stroke="#222" stroke-width="0.9"/>
<text x="385.2" y="204.6" font-size="6.6" text-anchor="middle" fill="#222" font-family="&quot;Liberation Sans&quot;, sans-serif">0</text>
<text x="394.90" y="204.6" font-size="6.6" text-anchor="end" fill="#222" font-family="&quot;Liberation Sans&quot;, sans-serif">10</text>
<text x="395.20" y="201.9" font-size="4.2" fill="#222" font-family="&quot;Liberation Sans&quot;, sans-serif">-14</text>
<text x="411.10" y="204.6" font-size="6.6" text-anchor="end" fill="#222" font-family="&quot;Liberation Sans&quot;, sans-serif">10</text>
<text x="411.40" y="201.9" font-size="4.2" fill="#222" font-family="&quot;Liberation Sans&quot;, sans-serif">-13</text>
<text x="427.30" y="204.6" font-size="6.6" text-anchor="end" fill="#222" font-family="&quot;Liberation Sans&quot;, sans-serif">10</text>
<text x="427.60" y="201.9" font-size="4.2" fill="#222" font-family="&quot;Liberation Sans&quot;, sans-serif">-12</text>
<text x="443.50" y="204.6" font-size="6.6" text-anchor="end" fill="#222" font-family="&quot;Liberation Sans&quot;, sans-serif">10</text>
<text x="443.80" y="201.9" font-size="4.2" fill="#222" font-family="&quot;Liberation Sans&quot;, sans-serif">-11</text>
<text x="459.70" y="204.6" font-size="6.6" text-anchor="end" fill="#222" font-family="&quot;Liberation Sans&quot;, sans-serif">10</text>
<text x="460.00" y="201.9" font-size="4.2" fill="#222" font-family="&quot;Liberation Sans&quot;, sans-serif">-10</text>
<text x="475.90" y="204.6" font-size="6.6" text-anchor="end" fill="#222" font-family="&quot;Liberation Sans&quot;, sans-serif">10</text>
<text x="476.20" y="201.9" font-size="4.2" fill="#222" font-family="&quot;Liberation Sans&quot;, sans-serif">-9</text>
<text x="492.10" y="204.6" font-size="6.6" text-anchor="end" fill="#222" font-family="&quot;Liberation Sans&quot;, sans-serif">10</text>
<text x="492.40" y="201.9" font-size="4.2" fill="#222" font-family="&quot;Liberation Sans&quot;, sans-serif">-8</text>
<text x="508.30" y="204.6" font-size="6.6" text-anchor="end" fill="#222" font-family="&quot;Liberation Sans&quot;, sans-serif">10</text>
<text x="508.60" y="201.9" font-size="4.2" fill="#222" font-family="&quot;Liberation Sans&quot;, sans-serif">-7</text>
<path d="M376.4,193.10 L379.0,193.10" stroke="#222" stroke-width="0.9"/>
<text x="373.4" y="195.80" font-size="6.3" text-anchor="end" fill="#222" font-family="&quot;Liberation Sans&quot;, sans-serif">0</text>
<path d="M376.4,164.67 L379.0,164.67" stroke="#222" stroke-width="0.9"/>
<text x="373.4" y="167.37" font-size="6.3" text-anchor="end" fill="#222" font-family="&quot;Liberation Sans&quot;, sans-serif">20</text>
<path d="M376.4,136.23 L379.0,136.23" stroke="#222" stroke-width="0.9"/>
<text x="373.4" y="138.93" font-size="6.3" text-anchor="end" fill="#222" font-family="&quot;Liberation Sans&quot;, sans-serif">40</text>
<path d="M376.4,107.80 L379.0,107.80" stroke="#222" stroke-width="0.9"/>
<text x="373.4" y="110.50" font-size="6.3" text-anchor="end" fill="#222" font-family="&quot;Liberation Sans&quot;, sans-serif">60</text>
<text transform="translate(360.8,149.2) rotate(-90) scale(0.87,1)" x="0" y="0" font-size="6.8" text-anchor="middle" fill="#222" stroke="#222" stroke-width="0.1" font-family="&quot;Liberation Sans&quot;, sans-serif">% Tumor cell killing</text>
<text transform="translate(444.4,216.1) scale(0.69,1)" x="0" y="0" font-size="8.4" text-anchor="middle" fill="#222" stroke="#222" stroke-width="0.3" font-family="&quot;Liberation Sans&quot;, sans-serif">Concentration (M)</text>
<text x="444.5" y="100.5" font-size="8.5" text-anchor="middle" fill="#222" font-family="&quot;Liberation Sans&quot;, sans-serif">KG-1a</text>
<path d="M64.80,178.94 L66.04,178.92 L67.29,178.89 L68.53,178.85 L69.77,178.81 L71.02,178.74 L72.26,178.65 L73.50,178.54 L74.75,178.39 L75.99,178.18 L77.23,177.92 L78.48,177.56 L79.72,177.09 L80.96,176.48 L82.21,175.68 L83.45,174.65 L84.69,173.32 L85.94,171.65 L87.18,169.57 L88.42,167.02 L89.67,163.99 L90.91,160.48 L92.15,156.55 L93.40,152.30 L94.64,147.90 L95.88,143.52 L97.13,139.33 L98.37,135.49 L99.61,132.08 L100.86,129.16 L102.10,126.73 L103.34,124.74 L104.59,123.15 L105.83,121.90 L107.07,120.92 L108.32,120.17 L109.56,119.59 L110.80,119.15 L112.05,118.82 L113.29,118.56 L114.53,118.37 L115.78,118.23 L117.02,118.12 L118.26,118.04 L119.51,117.98 L120.75,117.94 L121.99,117.90 L123.24,117.88 L124.48,117.86 L125.72,117.84 L126.97,117.83 L128.21,117.82 L129.45,117.82 L130.70,117.81 L131.94,117.81 L133.18,117.81 L134.43,117.81 L135.67,117.80 L136.91,117.80 L138.16,117.80 L139.40,117.80" stroke="#48ade4" stroke-width="0.9" fill="none"/>
<path d="M64.80,180.00 L66.04,180.00 L67.29,180.00 L68.53,179.99 L69.77,179.99 L71.02,179.99 L72.26,179.99 L73.50,179.98 L74.75,179.98 L75.99,179.97 L77.23,179.97 L78.48,179.95 L79.72,179.94 L80.96,179.92 L82.21,179.90 L83.45,179.87 L84.69,179.83 L85.94,179.78 L87.18,179.72 L88.42,179.64 L89.67,179.53 L90.91,179.39 L92.15,179.21 L93.40,178.98 L94.64,178.68 L95.88,178.29 L97.13,177.80 L98.37,177.17 L99.61,176.38 L100.86,175.38 L102.10,174.12 L103.34,172.57 L104.59,170.68 L105.83,168.40 L107.07,165.72 L108.32,162.61 L109.56,159.12 L110.80,155.29 L112.05,151.24 L113.29,147.08 L114.53,142.95 L115.78,138.99 L117.02,135.31 L118.26,131.99 L119.51,129.08 L120.75,126.58 L121.99,124.49 L123.24,122.76 L124.48,121.36 L125.72,120.23 L126.97,119.33 L128.21,118.61 L129.45,118.05 L130.70,117.62 L131.94,117.27 L133.18,117.01 L134.43,116.80 L135.67,116.64 L136.91,116.52 L138.16,116.42 L139.40,116.35" stroke="#cc8440" stroke-width="0.9" fill="none"/>
<path d="M64.80,178.60 L66.04,178.60 L67.29,178.60 L68.53,178.60 L69.77,178.60 L71.02,178.60 L72.26,178.60 L73.50,178.60 L74.75,178.60 L75.99,178.59 L77.23,178.59 L78.48,178.59 L79.72,178.59 L80.96,178.58 L82.21,178.58 L83.45,178.57 L84.69,178.57 L85.94,178.55 L87.18,178.54 L88.42,178.52 L89.67,178.50 L90.91,178.47 L92.15,178.42 L93.40,178.37 L94.64,178.30 L95.88,178.20 L97.13,178.08 L98.37,177.92 L99.61,177.72 L100.86,177.45 L102.10,177.10 L103.34,176.65 L104.59,176.08 L105.83,175.34 L107.07,174.40 L108.32,173.23 L109.56,171.77 L110.80,169.97 L112.05,167.82 L113.29,165.27 L114.53,162.35 L115.78,159.07 L117.02,155.53 L118.26,151.82 L119.51,148.07 L120.75,144.42 L121.99,140.99 L123.24,137.87 L124.48,135.11 L125.72,132.75 L126.97,130.76 L128.21,129.12 L129.45,127.80 L130.70,126.74 L131.94,125.90 L133.18,125.24 L134.43,124.73 L135.67,124.33 L136.91,124.02 L138.16,123.78 L139.40,123.60" stroke="#6a52a3" stroke-width="0.9" fill="none"/>
<path d="M64.8,178.15 L67.25,180.6 L64.8,183.04999999999998 L62.349999999999994,180.6Z" fill="#b36a26"/>
<path d="M72,177.95000000000002 L74.45,180.4 L72,182.85 L69.55,180.4Z" fill="#b36a26"/>
<path d="M79.6,178.35000000000002 L82.05,180.8 L79.6,183.25 L77.14999999999999,180.8Z" fill="#b36a26"/>
<path d="M86.9,179.15 L89.35000000000001,181.6 L86.9,184.04999999999998 L84.45,181.6Z" fill="#b36a26"/>
<path d="M94.5,179.55 L96.95,182.0 L94.5,184.45 L92.05,182.0Z" fill="#b36a26"/>
<path d="M101.8,173.95000000000002 L104.25,176.4 L101.8,178.85 L99.35,176.4Z" fill="#b36a26"/>
<path d="M109.5,156.75 L111.95,159.2 L109.5,161.64999999999998 L107.05,159.2Z" fill="#b36a26"/>
<path d="M117,132.45000000000002 L119.45,134.9 L117,137.35 L114.55,134.9Z" fill="#b36a26"/>
<path d="M124.5,119.05 L126.95,121.5 L124.5,123.95 L122.05,121.5Z" fill="#b36a26"/>
<path d="M132.0,114.55 L134.45,117.0 L132.0,119.45 L129.55,117.0Z" fill="#b36a26"/>
<path d="M139.4,113.05 L141.85,115.5 L139.4,117.95 L136.95000000000002,115.5Z" fill="#b36a26"/>
<circle cx="64.8" cy="175.4" r="2.1" fill="#503c84"/>
<circle cx="72" cy="176.6" r="2.1" fill="#503c84"/>
<circle cx="79.6" cy="177.2" r="2.1" fill="#503c84"/>
<circle cx="86.9" cy="178.5" r="2.1" fill="#503c84"/>
<circle cx="94.5" cy="179.0" r="2.1" fill="#503c84"/>
<circle cx="101.8" cy="178.5" r="2.1" fill="#503c84"/>
<circle cx="109.5" cy="173.8" r="2.1" fill="#503c84"/>
<circle cx="117" cy="157.6" r="2.1" fill="#503c84"/>
<circle cx="124.5" cy="137.9" r="2.1" fill="#503c84"/>
<circle cx="132.0" cy="129.5" r="2.1" fill="#503c84"/>
<circle cx="139.4" cy="120.3" r="2.1" fill="#503c84"/>
<rect x="62.80" y="176.80" width="4.00" height="4.00" fill="#2f97cf"/>
<rect x="70.00" y="176.40" width="4.00" height="4.00" fill="#2f97cf"/>
<rect x="77.60" y="176.80" width="4.00" height="4.00" fill="#2f97cf"/>
<rect x="84.90" y="167.60" width="4.00" height="4.00" fill="#2f97cf"/>
<rect x="92.50" y="147.10" width="4.00" height="4.00" fill="#2f97cf"/>
<rect x="99.80" y="133.60" width="4.00" height="4.00" fill="#2f97cf"/>
<rect x="107.50" y="123.70" width="4.00" height="4.00" fill="#2f97cf"/>
<rect x="115.00" y="119.10" width="4.00" height="4.00" fill="#2f97cf"/>
<rect x="122.50" y="112.60" width="4.00" height="4.00" fill="#2f97cf"/>
<rect x="130.00" y="114.50" width="4.00" height="4.00" fill="#2f97cf"/>
<rect x="137.40" y="112.20" width="4.00" height="4.00" fill="#2f97cf"/>
<path d="M92.8,177.5 L96.39999999999999,181.10000000000002 M96.39999999999999,177.5 L92.8,181.10000000000002" stroke="#111" stroke-width="1.0" fill="none"/>
<path d="M107.9,176.29999999999998 L111.5,179.9 M111.5,176.29999999999998 L107.9,179.9" stroke="#111" stroke-width="1.0" fill="none"/>
<path d="M115.10000000000001,176.5 L118.7,180.10000000000002 M118.7,176.5 L115.10000000000001,180.10000000000002" stroke="#111" stroke-width="1.0" fill="none"/>
<path d="M122.60000000000001,176.6 L126.2,180.20000000000002 M126.2,176.6 L122.60000000000001,180.20000000000002" stroke="#111" stroke-width="1.0" fill="none"/>
<path d="M130.0,174.1 L133.60000000000002,177.70000000000002 M133.60000000000002,174.1 L130.0,177.70000000000002" stroke="#111" stroke-width="1.0" fill="none"/>
<path d="M137.79999999999998,178.5 L141.4,182.10000000000002 M141.4,178.5 L137.79999999999998,182.10000000000002" stroke="#111" stroke-width="1.0" fill="none"/>
<circle cx="49" cy="170.9" r="1.75" fill="none" stroke="#2d7a63" stroke-width="0.9"/>
<path d="M236.50,183.19 L237.78,183.19 L239.05,183.18 L240.32,183.18 L241.60,183.17 L242.88,183.16 L244.15,183.14 L245.43,183.12 L246.70,183.09 L247.97,183.04 L249.25,182.98 L250.53,182.90 L251.80,182.78 L253.07,182.62 L254.35,182.40 L255.62,182.10 L256.90,181.69 L258.18,181.13 L259.45,180.37 L260.73,179.34 L262.00,177.98 L263.27,176.20 L264.55,173.91 L265.82,171.04 L267.10,167.53 L268.38,163.41 L269.65,158.77 L270.93,153.79 L272.20,148.72 L273.48,143.80 L274.75,139.28 L276.02,135.32 L277.30,131.97 L278.57,129.25 L279.85,127.10 L281.12,125.43 L282.40,124.17 L283.68,123.22 L284.95,122.51 L286.23,121.99 L287.50,121.61 L288.77,121.34 L290.05,121.13 L291.32,120.99 L292.60,120.88 L293.88,120.80 L295.15,120.75 L296.43,120.71 L297.70,120.68 L298.98,120.66 L300.25,120.64 L301.52,120.63 L302.80,120.62 L304.07,120.62 L305.35,120.61 L306.62,120.61 L307.90,120.61 L309.18,120.60 L310.45,120.60 L311.73,120.60 L313.00,120.60" stroke="#cc8440" stroke-width="0.9" fill="none"/>
<path d="M262.30,183.58 L263.58,183.58 L264.85,183.57 L266.13,183.57 L267.41,183.55 L268.68,183.54 L269.96,183.52 L271.24,183.50 L272.51,183.46 L273.79,183.42 L275.07,183.37 L276.34,183.30 L277.62,183.20 L278.90,183.08 L280.17,182.92 L281.45,182.70 L282.73,182.43 L284.00,182.07 L285.28,181.61 L286.56,181.02 L287.83,180.26 L289.11,179.29 L290.39,178.06 L291.66,176.53 L292.94,174.64 L294.22,172.36 L295.49,169.64 L296.77,166.48 L298.05,162.92 L299.32,159.02 L300.60,154.90 L301.88,150.70 L303.15,146.57 L304.43,142.64 L305.71,139.05 L306.98,135.85 L308.26,133.09 L309.54,130.76 L310.81,128.84 L312.09,127.27 L313.37,126.02 L314.64,125.03 L315.92,124.25 L317.20,123.64 L318.47,123.16 L319.75,122.80 L321.03,122.52 L322.30,122.30 L323.58,122.14 L324.86,122.01 L326.13,121.91 L327.41,121.84 L328.69,121.78 L329.96,121.74 L331.24,121.71 L332.52,121.68 L333.79,121.66 L335.07,121.65 L336.35,121.64 L337.62,121.63 L338.90,121.62" stroke="#6a52a3" stroke-width="0.9" fill="none"/>
<path d="M236.5,180.55 L238.95,183.0 L236.5,185.45 L234.05,183.0Z" fill="#b36a26"/>
<path d="M244.1,180.55 L246.54999999999998,183.0 L244.1,185.45 L241.65,183.0Z" fill="#b36a26"/>
<path d="M251.8,181.55 L254.25,184.0 L251.8,186.45 L249.35000000000002,184.0Z" fill="#b36a26"/>
<path d="M259.3,177.55 L261.75,180.0 L259.3,182.45 L256.85,180.0Z" fill="#b36a26"/>
<path d="M267.2,166.95000000000002 L269.65,169.4 L267.2,171.85 L264.75,169.4Z" fill="#b36a26"/>
<path d="M275,137.35000000000002 L277.45,139.8 L275,142.25 L272.55,139.8Z" fill="#b36a26"/>
<path d="M282.4,125.14999999999999 L284.84999999999997,127.6 L282.4,130.04999999999998 L279.95,127.6Z" fill="#b36a26"/>
<path d="M290.5,117.35 L292.95,119.8 L290.5,122.25 L288.05,119.8Z" fill="#b36a26"/>
<path d="M297.8,115.55 L300.25,118.0 L297.8,120.45 L295.35,118.0Z" fill="#b36a26"/>
<path d="M305.6,120.95 L308.05,123.4 L305.6,125.85000000000001 L303.15000000000003,123.4Z" fill="#b36a26"/>
<path d="M313,119.25 L315.45,121.7 L313,124.15 L310.55,121.7Z" fill="#b36a26"/>
<rect x="234.50" y="179.30" width="4.00" height="4.00" fill="#2f97cf"/>
<rect x="242.10" y="180.00" width="4.00" height="4.00" fill="#2f97cf"/>
<rect x="249.80" y="181.60" width="4.00" height="4.00" fill="#2f97cf"/>
<rect x="257.30" y="182.20" width="4.00" height="4.00" fill="#2f97cf"/>
<rect x="265.40" y="182.10" width="4.00" height="4.00" fill="#2f97cf"/>
<rect x="272.60" y="179.70" width="4.00" height="4.00" fill="#2f97cf"/>
<rect x="280.70" y="179.50" width="4.00" height="4.00" fill="#2f97cf"/>
<rect x="288.40" y="177.20" width="4.00" height="4.00" fill="#2f97cf"/>
<rect x="295.70" y="177.20" width="4.00" height="4.00" fill="#2f97cf"/>
<rect x="303.40" y="177.80" width="4.00" height="4.00" fill="#2f97cf"/>
<rect x="311.10" y="177.20" width="4.00" height="4.00" fill="#2f97cf"/>
<circle cx="262.3" cy="181.7" r="2.1" fill="#503c84"/>
<circle cx="270.1" cy="181.7" r="2.1" fill="#503c84"/>
<circle cx="277.4" cy="183.0" r="2.1" fill="#503c84"/>
<circle cx="285.3" cy="182.4" r="2.1" fill="#503c84"/>
<circle cx="293.4" cy="177.3" r="2.1" fill="#503c84"/>
<circle cx="300.2" cy="151.0" r="2.1" fill="#503c84"/>
<circle cx="307.6" cy="137.4" r="2.1" fill="#503c84"/>
<circle cx="315.6" cy="127.1" r="2.1" fill="#503c84"/>
<circle cx="323.5" cy="121.7" r="2.1" fill="#503c84"/>
<circle cx="331.3" cy="121.7" r="2.1" fill="#503c84"/>
<circle cx="338.9" cy="119.3" r="2.1" fill="#503c84"/>
<path d="M337.2,180.2 L340.8,183.8 M340.8,180.2 L337.2,183.8" stroke="#111" stroke-width="1.0" fill="none"/>
<circle cx="216.8" cy="182.7" r="1.75" fill="none" stroke="#2d7a63" stroke-width="0.9"/>
<path d="M406.00,186.31 L407.26,186.23 L408.53,186.13 L409.79,185.99 L411.05,185.82 L412.32,185.60 L413.58,185.31 L414.84,184.95 L416.11,184.49 L417.37,183.91 L418.63,183.17 L419.90,182.25 L421.16,181.10 L422.42,179.68 L423.69,177.94 L424.95,175.84 L426.21,173.34 L427.48,170.42 L428.74,167.08 L430.00,163.35 L431.27,159.31 L432.53,155.05 L433.79,150.69 L435.06,146.38 L436.32,142.24 L437.58,138.38 L438.85,134.90 L440.11,131.82 L441.37,129.16 L442.64,126.91 L443.90,125.04 L445.16,123.50 L446.43,122.25 L447.69,121.25 L448.95,120.45 L450.22,119.81 L451.48,119.31 L452.74,118.91 L454.01,118.60 L455.27,118.36 L456.53,118.17 L457.80,118.02 L459.06,117.91 L460.32,117.82 L461.59,117.75 L462.85,117.69 L464.11,117.65 L465.38,117.62 L466.64,117.59 L467.90,117.57 L469.17,117.55 L470.43,117.54 L471.69,117.53 L472.96,117.53 L474.22,117.52 L475.48,117.52 L476.75,117.51 L478.01,117.51 L479.27,117.51 L480.54,117.51 L481.80,117.50" stroke="#48ade4" stroke-width="0.9" fill="none"/>
<path d="M406.00,186.79 L407.26,186.79 L408.53,186.78 L409.79,186.78 L411.05,186.77 L412.32,186.76 L413.58,186.74 L414.84,186.73 L416.11,186.70 L417.37,186.67 L418.63,186.63 L419.90,186.58 L421.16,186.52 L422.42,186.43 L423.69,186.32 L424.95,186.18 L426.21,186.00 L427.48,185.78 L428.74,185.50 L430.00,185.16 L431.27,184.77 L432.53,184.31 L433.79,183.79 L435.06,183.22 L436.32,182.63 L437.58,182.03 L438.85,181.44 L440.11,180.88 L441.37,180.38 L442.64,179.93 L443.90,179.55 L445.16,179.23 L446.43,178.97 L447.69,178.75 L448.95,178.59 L450.22,178.45 L451.48,178.35 L452.74,178.27 L454.01,178.20 L455.27,178.16 L456.53,178.12 L457.80,178.09 L459.06,178.07 L460.32,178.05 L461.59,178.04 L462.85,178.03 L464.11,178.02 L465.38,178.02 L466.64,178.01 L467.90,178.01 L469.17,178.01 L470.43,178.01 L471.69,178.00 L472.96,178.00 L474.22,178.00 L475.48,178.00 L476.75,178.00 L478.01,178.00 L479.27,178.00 L480.54,178.00 L481.80,178.00" stroke="#cc8440" stroke-width="0.9" fill="none"/>
<path d="M424.00,187.75 L425.39,187.74 L426.78,187.73 L428.17,187.71 L429.55,187.69 L430.94,187.67 L432.33,187.64 L433.72,187.60 L435.11,187.55 L436.50,187.49 L437.88,187.42 L439.27,187.34 L440.66,187.23 L442.05,187.10 L443.44,186.95 L444.82,186.75 L446.21,186.52 L447.60,186.23 L448.99,185.89 L450.38,185.47 L451.77,184.96 L453.16,184.35 L454.54,183.62 L455.93,182.75 L457.32,181.73 L458.71,180.53 L460.10,179.14 L461.49,177.55 L462.87,175.75 L464.26,173.74 L465.65,171.54 L467.04,169.17 L468.43,166.67 L469.81,164.08 L471.20,161.45 L472.59,158.84 L473.98,156.30 L475.37,153.89 L476.76,151.64 L478.14,149.58 L479.53,147.72 L480.92,146.07 L482.31,144.63 L483.70,143.38 L485.09,142.31 L486.48,141.40 L487.86,140.64 L489.25,140.00 L490.64,139.46 L492.03,139.02 L493.42,138.66 L494.81,138.35 L496.19,138.11 L497.58,137.90 L498.97,137.74 L500.36,137.60 L501.75,137.49 L503.13,137.40 L504.52,137.32 L505.91,137.26 L507.30,137.21" stroke="#6a52a3" stroke-width="0.9" fill="none"/>
<path d="M406,184.55 L408.45,187 L406,189.45 L403.55,187Z" fill="#b36a26"/>
<path d="M414,184.55 L416.45,187 L414,189.45 L411.55,187Z" fill="#b36a26"/>
<path d="M420.7,184.55 L423.15,187 L420.7,189.45 L418.25,187Z" fill="#b36a26"/>
<path d="M428.7,184.05 L431.15,186.5 L428.7,188.95 L426.25,186.5Z" fill="#b36a26"/>
<path d="M436.3,180.85000000000002 L438.75,183.3 L436.3,185.75 L433.85,183.3Z" fill="#b36a26"/>
<path d="M444,177.95000000000002 L446.45,180.4 L444,182.85 L441.55,180.4Z" fill="#b36a26"/>
<path d="M451.2,174.85000000000002 L453.65,177.3 L451.2,179.75 L448.75,177.3Z" fill="#b36a26"/>
<path d="M459.1,173.85000000000002 L461.55,176.3 L459.1,178.75 L456.65000000000003,176.3Z" fill="#b36a26"/>
<path d="M466.6,175.65 L469.05,178.1 L466.6,180.54999999999998 L464.15000000000003,178.1Z" fill="#b36a26"/>
<path d="M474,176.45000000000002 L476.45,178.9 L474,181.35 L471.55,178.9Z" fill="#b36a26"/>
<path d="M481.8,177.85000000000002 L484.25,180.3 L481.8,182.75 L479.35,180.3Z" fill="#b36a26"/>
<rect x="404.00" y="183.90" width="4.00" height="4.00" fill="#2f97cf"/>
<rect x="412.00" y="183.90" width="4.00" height="4.00" fill="#2f97cf"/>
<rect x="418.70" y="181.30" width="4.00" height="4.00" fill="#2f97cf"/>
<rect x="426.30" y="167.00" width="4.00" height="4.00" fill="#2f97cf"/>
<rect x="434.30" y="146.80" width="4.00" height="4.00" fill="#2f97cf"/>
<rect x="441.20" y="128.30" width="4.00" height="4.00" fill="#2f97cf"/>
<rect x="449.20" y="118.40" width="4.00" height="4.00" fill="#2f97cf"/>
<rect x="457.10" y="115.50" width="4.00" height="4.00" fill="#2f97cf"/>
<rect x="464.60" y="115.80" width="4.00" height="4.00" fill="#2f97cf"/>
<rect x="472.00" y="114.20" width="4.00" height="4.00" fill="#2f97cf"/>
<rect x="479.80" y="115.00" width="4.00" height="4.00" fill="#2f97cf"/>
<circle cx="431.5" cy="187.5" r="2.1" fill="#503c84"/>
<circle cx="439" cy="187.5" r="2.1" fill="#503c84"/>
<circle cx="446.6" cy="186.1" r="2.1" fill="#503c84"/>
<circle cx="453.8" cy="184.3" r="2.1" fill="#503c84"/>
<circle cx="461.8" cy="178.9" r="2.1" fill="#503c84"/>
<circle cx="469.3" cy="164" r="2.1" fill="#503c84"/>
<circle cx="476.7" cy="152.1" r="2.1" fill="#503c84"/>
<circle cx="484.7" cy="144.9" r="2.1" fill="#503c84"/>
<circle cx="492.1" cy="139.6" r="2.1" fill="#503c84"/>
<circle cx="499.8" cy="137.7" r="2.1" fill="#503c84"/>
<circle cx="507.3" cy="132.4" r="2.1" fill="#503c84"/>
<path d="M505.5,185.6 L509.1,189.20000000000002 M509.1,185.6 L505.5,189.20000000000002" stroke="#111" stroke-width="1.0" fill="none"/>
<path d="M385.5,185.1 L387.7,187.4 L385.5,189.7 L383.3,187.4 Z" fill="none" stroke="#2d7a63" stroke-width="0.9"/>
<text transform="translate(38.8,252.6) scale(0.943,1)" font-size="8.6" fill="#222" font-family="&quot;Liberation Sans&quot;, sans-serif">number of receptors per cell</text>
<rect x="42.8" y="264" width="50.7" height="10.2" fill="#c4691b"/>
<rect x="42.8" y="280.2" width="10.2" height="10.6" fill="#34a3dd"/>
<path d="M42.8,257.5 L42.8,296.7 L108.8,296.7" stroke="#262626" stroke-width="1.3" fill="none"/>
<path d="M42.80,296.6 L42.80,299.4" stroke="#222" stroke-width="1"/>
<text transform="translate(46.10,306.9) rotate(-45)" font-size="5.9" text-anchor="end" fill="#222" stroke="#222" stroke-width="0.15" font-family="&quot;Liberation Sans&quot;, sans-serif">0</text>
<path d="M58.42,296.6 L58.42,299.4" stroke="#222" stroke-width="1"/>
<text transform="translate(61.72,306.9) rotate(-45)" font-size="5.9" text-anchor="end" fill="#222" stroke="#222" stroke-width="0.15" font-family="&quot;Liberation Sans&quot;, sans-serif">10000</text>
<path d="M74.04,296.6 L74.04,299.4" stroke="#222" stroke-width="1"/>
<text transform="translate(77.34,306.9) rotate(-45)" font-size="5.9" text-anchor="end" fill="#222" stroke="#222" stroke-width="0.15" font-family="&quot;Liberation Sans&quot;, sans-serif">20000</text>
<path d="M89.66,296.6 L89.66,299.4" stroke="#222" stroke-width="1"/>
<text transform="translate(92.96,306.9) rotate(-45)" font-size="5.9" text-anchor="end" fill="#222" stroke="#222" stroke-width="0.15" font-family="&quot;Liberation Sans&quot;, sans-serif">30000</text>
<path d="M105.28,296.6 L105.28,299.4" stroke="#222" stroke-width="1"/>
<text transform="translate(108.58,306.9) rotate(-45)" font-size="5.9" text-anchor="end" fill="#222" stroke="#222" stroke-width="0.15" font-family="&quot;Liberation Sans&quot;, sans-serif">40000</text>
<text transform="translate(107.2,271.3) scale(0.95,1)" font-size="6.6" fill="#c4773a" font-family="&quot;Liberation Sans&quot;, sans-serif">CD33 +++</text>
<text transform="translate(107.2,287.9) scale(0.95,1)" font-size="6.6" fill="#45a6dc" font-family="&quot;Liberation Sans&quot;, sans-serif">CD123 ++</text>
<text transform="translate(206.7,252.6) scale(0.943,1)" font-size="8.6" fill="#222" font-family="&quot;Liberation Sans&quot;, sans-serif">number of receptors per cell</text>
<rect x="211.3" y="264" width="30.4" height="10.2" fill="#c4691b"/>
<rect x="211.3" y="280.2" width="1.0" height="10.6" fill="#2a6c9c"/>
<path d="M211.3,257.5 L211.3,296.7 L277.3,296.7" stroke="#262626" stroke-width="1.3" fill="none"/>
<path d="M211.30,296.6 L211.30,299.4" stroke="#222" stroke-width="1"/>
<text transform="translate(214.60,306.9) rotate(-45)" font-size="5.9" text-anchor="end" fill="#222" stroke="#222" stroke-width="0.15" font-family="&quot;Liberation Sans&quot;, sans-serif">0</text>
<path d="M226.92,296.6 L226.92,299.4" stroke="#222" stroke-width="1"/>
<text transform="translate(230.22,306.9) rotate(-45)" font-size="5.9" text-anchor="end" fill="#222" stroke="#222" stroke-width="0.15" font-family="&quot;Liberation Sans&quot;, sans-serif">10000</text>
<path d="M242.54,296.6 L242.54,299.4" stroke="#222" stroke-width="1"/>
<text transform="translate(245.84,306.9) rotate(-45)" font-size="5.9" text-anchor="end" fill="#222" stroke="#222" stroke-width="0.15" font-family="&quot;Liberation Sans&quot;, sans-serif">20000</text>
<path d="M258.16,296.6 L258.16,299.4" stroke="#222" stroke-width="1"/>
<text transform="translate(261.46,306.9) rotate(-45)" font-size="5.9" text-anchor="end" fill="#222" stroke="#222" stroke-width="0.15" font-family="&quot;Liberation Sans&quot;, sans-serif">30000</text>
<path d="M273.78,296.6 L273.78,299.4" stroke="#222" stroke-width="1"/>
<text transform="translate(277.08,306.9) rotate(-45)" font-size="5.9" text-anchor="end" fill="#222" stroke="#222" stroke-width="0.15" font-family="&quot;Liberation Sans&quot;, sans-serif">40000</text>
<text transform="translate(273.8,271.3) scale(0.95,1)" font-size="6.6" fill="#c4773a" font-family="&quot;Liberation Sans&quot;, sans-serif">CD33 ++</text>
<text transform="translate(273.8,287.9) scale(0.95,1)" font-size="6.6" fill="#45a6dc" font-family="&quot;Liberation Sans&quot;, sans-serif">CD123 +/−</text>
<text transform="translate(374.5,252.6) scale(0.943,1)" font-size="8.6" fill="#222" font-family="&quot;Liberation Sans&quot;, sans-serif">number of receptors per cell</text>
<rect x="379.6" y="264" width="1.0" height="10.2" fill="#4a3018"/>
<rect x="379.6" y="280.2" width="5.0" height="10.6" fill="#34a3dd"/>
<path d="M379.6,257.5 L379.6,296.7 L445.6,296.7" stroke="#262626" stroke-width="1.3" fill="none"/>
<path d="M379.60,296.6 L379.60,299.4" stroke="#222" stroke-width="1"/>
<text transform="translate(382.90,306.9) rotate(-45)" font-size="5.9" text-anchor="end" fill="#222" stroke="#222" stroke-width="0.15" font-family="&quot;Liberation Sans&quot;, sans-serif">0</text>
<path d="M395.22,296.6 L395.22,299.4" stroke="#222" stroke-width="1"/>
<text transform="translate(398.52,306.9) rotate(-45)" font-size="5.9" text-anchor="end" fill="#222" stroke="#222" stroke-width="0.15" font-family="&quot;Liberation Sans&quot;, sans-serif">10000</text>
<path d="M410.84,296.6 L410.84,299.4" stroke="#222" stroke-width="1"/>
<text transform="translate(414.14,306.9) rotate(-45)" font-size="5.9" text-anchor="end" fill="#222" stroke="#222" stroke-width="0.15" font-family="&quot;Liberation Sans&quot;, sans-serif">20000</text>
<path d="M426.46,296.6 L426.46,299.4" stroke="#222" stroke-width="1"/>
<text transform="translate(429.76,306.9) rotate(-45)" font-size="5.9" text-anchor="end" fill="#222" stroke="#222" stroke-width="0.15" font-family="&quot;Liberation Sans&quot;, sans-serif">30000</text>
<path d="M442.08,296.6 L442.08,299.4" stroke="#222" stroke-width="1"/>
<text transform="translate(445.38,306.9) rotate(-45)" font-size="5.9" text-anchor="end" fill="#222" stroke="#222" stroke-width="0.15" font-family="&quot;Liberation Sans&quot;, sans-serif">40000</text>
<text transform="translate(444.2,271.3) scale(0.95,1)" font-size="6.6" fill="#c4773a" font-family="&quot;Liberation Sans&quot;, sans-serif">CD33 +/−</text>
<text transform="translate(444.2,287.9) scale(0.95,1)" font-size="6.6" fill="#45a6dc" font-family="&quot;Liberation Sans&quot;, sans-serif">CD123 +</text>
<rect x="0" y="0" width="520" height="1" fill="#6a6a6a"/><rect x="0" y="0" width="1" height="327" fill="#6e6e6e"/><rect x="0" y="326" width="520" height="1" fill="#666"/><rect x="518" y="0" width="1" height="327" fill="#bdbdbd"/><rect x="519" y="0" width="1" height="327" fill="#5a5a5a"/>
</svg></body></html>
